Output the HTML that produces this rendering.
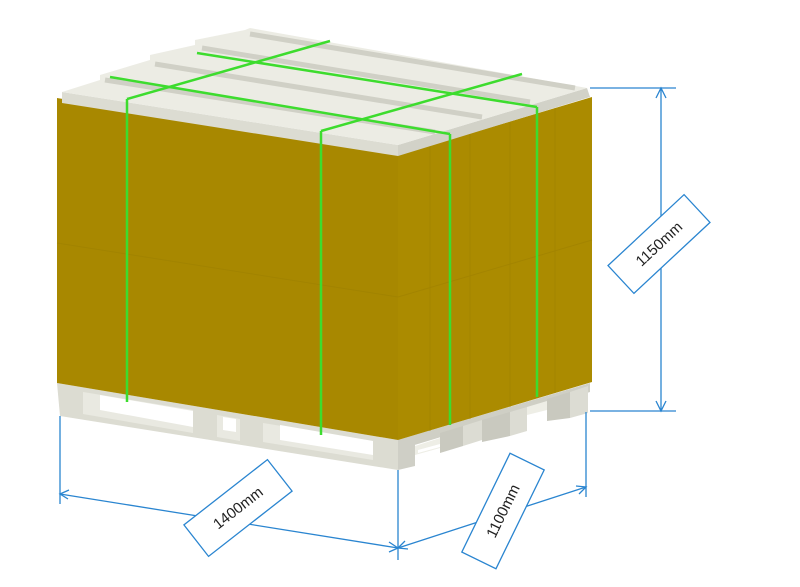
<!DOCTYPE html>
<html><head><meta charset="utf-8"><style>
html,body{margin:0;padding:0;background:#fff;}
svg{display:block;}
text{font-family:"Liberation Sans",sans-serif;}
</style></head><body>
<svg width="800" height="587" viewBox="0 0 800 587" xmlns="http://www.w3.org/2000/svg">
<!-- pallet right side -->
<polygon points="398,440 590,383 590,392 398,450" fill="#cfcfc5"/>
<polygon points="415,446 440,438 440,448 415,455" fill="#eeeee6"/>
<polygon points="418,450 440,444 440,447 418,453" fill="#fff"/>
<polygon points="440,433 463,426 463,446 440,453" fill="#c9c9bf"/>
<polygon points="463,426 482,420 482,440 463,446" fill="#dcdcd3"/>
<polygon points="482,420 510,412 510,436 482,442" fill="#c9c9bf"/>
<polygon points="510,412 527,407 527,431 510,436" fill="#dcdcd3"/>
<polygon points="527,407 547,401 547,410 527,415" fill="#eeeee6"/>
<polygon points="547,399 570,392 570,418 547,421" fill="#c9c9bf"/>
<polygon points="570,392 588,386 588,413 570,418" fill="#dcdcd3"/>
<!-- pallet front -->
<polygon points="57,383 398,440 398,470 60,416" fill="#dcdcd2"/>
<polygon points="398,440 415,436 415,466 398,470" fill="#cfcfc6"/>
<polygon points="83,392 193,410 193,433 83,414" fill="#e9e9e1"/>
<polygon points="100,395 193,411 193,427 100,410" fill="#ffffff"/>
<polygon points="217,415 240,419 240,441 217,437" fill="#e9e9e1"/>
<polygon points="223,417 236,419 236,432 223,430" fill="#ffffff"/>
<polygon points="263,423 373,441 373,460 263,442" fill="#e9e9e1"/>
<polygon points="280,425 373,441 373,455 280,440" fill="#ffffff"/>
<!-- box -->
<polygon points="57,98 398,155 398,440 57,383" fill="#a88800"/>
<polygon points="398,155 592,97 592,382 398,440" fill="#ab8b00"/>
<g stroke="#9c7f00" stroke-width="1" opacity="0.5">
<line x1="57" y1="243" x2="398" y2="297"/>
<line x1="398" y1="297" x2="592" y2="240"/>
<line x1="430" y1="146" x2="430" y2="431"/>
<line x1="470" y1="134" x2="470" y2="419"/>
<line x1="510" y1="122" x2="510" y2="407"/>
<line x1="555" y1="108" x2="555" y2="393"/>
</g>
<!-- lid -->
<polygon points="62,92 398,145 398,156 62,103" fill="#dcdcd2"/>
<polygon points="398,145 587,88 590,97 398,156" fill="#d2d2c8"/>
<polygon points="62,92 100,80 100,75 150,60 150,55 195,45 195,40 245,30 250,28 587,88 398,145" fill="#ececE4"/>
<g stroke="#d0d0c6" stroke-width="5">
<line x1="105" y1="80" x2="435" y2="132"/>
<line x1="155" y1="64" x2="482" y2="117"/>
<line x1="202" y1="48" x2="530" y2="102"/>
<line x1="250" y1="34" x2="575" y2="88"/>
</g>
<!-- straps -->
<g stroke="#3ddc2e" stroke-width="2.5" fill="none">
<line x1="127" y1="99" x2="127" y2="402"/>
<line x1="321" y1="131" x2="321" y2="435"/>
<line x1="450" y1="134" x2="450" y2="425"/>
<line x1="537" y1="107" x2="537" y2="397"/>
<line x1="127" y1="99" x2="330" y2="41"/>
<line x1="321" y1="131" x2="522" y2="74"/>
<line x1="110" y1="77" x2="450" y2="134"/>
<line x1="197" y1="53" x2="537" y2="107"/>
</g>
<!-- dimensions -->
<g stroke="#2a85d0" stroke-width="1.3" fill="none">
<line x1="590" y1="88" x2="676" y2="88"/>
<line x1="590" y1="411" x2="676" y2="411"/>
<line x1="661" y1="88" x2="661" y2="411"/>
<polyline points="656,98 661,88 666,98"/>
<polyline points="656,401 661,411 666,401"/>
<line x1="60" y1="416" x2="60" y2="504"/>
<line x1="398" y1="470" x2="398" y2="560"/>
<line x1="586" y1="412" x2="586" y2="497"/>
<line x1="60" y1="494" x2="398" y2="548"/>
<polyline points="69,490 60,494 68,499"/>
<polyline points="389,542 398,548 389,552"/>
<line x1="398" y1="548" x2="586" y2="487"/>
<polyline points="405,541 398,548 408,549"/>
<polyline points="576,486 586,487 579,494"/>
</g>
<g transform="translate(659,244) rotate(-43)">
<rect x="-52" y="-19" width="104" height="38" fill="#fff" stroke="#2a85d0" stroke-width="1.3"/>
<text x="0" y="5" font-size="15" text-anchor="middle" fill="#222">1150mm</text>
</g>
<g transform="translate(238,508) rotate(-38)">
<rect x="-53" y="-20" width="106" height="40" fill="#fff" stroke="#2a85d0" stroke-width="1.3"/>
<text x="0" y="5" font-size="15" text-anchor="middle" fill="#222">1400mm</text>
</g>
<g transform="translate(503,511) rotate(-64)">
<rect x="-55" y="-19" width="110" height="38" fill="#fff" stroke="#2a85d0" stroke-width="1.3"/>
<text x="0" y="5" font-size="15" text-anchor="middle" fill="#222">1100mm</text>
</g>
</svg>
</body></html>
